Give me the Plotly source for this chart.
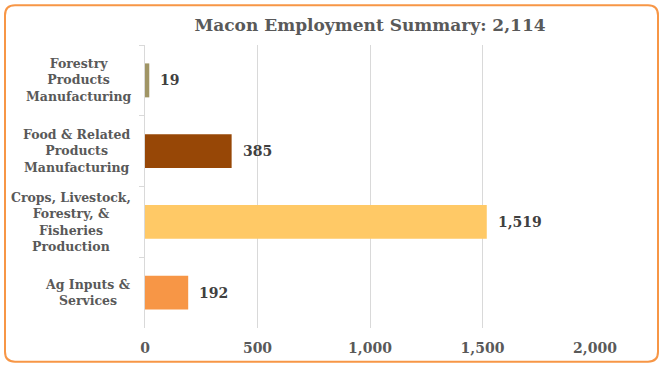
import plotly.graph_objects as go

categories = ["Forestry Products Manufacturing", "Food & Related Products Manufacturing",
              "Crops, Livestock, Forestry, & Fisheries Production", "Ag Inputs & Services"]
category_labels = ["Forestry<br>Products<br>Manufacturing", "Food & Related<br>Products<br>Manufacturing",
                   "Crops, Livestock,<br>Forestry, &<br>Fisheries<br>Production", "Ag Inputs &<br>Services"]
values = [19, 385, 1519, 192]
value_text = ["19", "385", "1,519", "192"]
colors = ["#A09565", "#974706", "#FFC966", "#F79646"]
title_text = "Macon Employment Summary: 2,114"

W, H = 663, 368
L, R, T, B = 145, 68, 45, 38
pw, ph = W - L - R, H - T - B

def px(x):
    return (x - L) / pw

def py(y):
    return (H - B - y) / ph

FONT = "DejaVu Serif"
GRAY = "#595959"

fig = go.Figure()
fig.add_trace(go.Bar(
    y=categories, x=values, orientation="h",
    marker=dict(color=colors, line=dict(width=0)),
    width=0.48,
    hoverinfo="skip",
))

annotations = []
for c, lab in zip(categories, category_labels):
    annotations.append(dict(
        x=px(133), xref="paper", y=c, yref="y", text=lab, showarrow=False,
        xanchor="right", align="center",
        font=dict(family=FONT, size=12.5, color=GRAY, weight="bold"),
    ))
for c, v, t in zip(categories, values, value_text):
    annotations.append(dict(
        x=v, xref="x", y=c, yref="y", text=t, showarrow=False,
        xanchor="left", xshift=9,
        font=dict(family=FONT, size=14, color="#404040", weight="bold"),
    ))

# rounded border
x0, x1, y0, y1, r = 5, 658, 5, 364, 10
path = (f"M {px(x0+r)},{py(y0)} L {px(x1-r)},{py(y0)} Q {px(x1)},{py(y0)} {px(x1)},{py(y0+r)} "
        f"L {px(x1)},{py(y1-r)} Q {px(x1)},{py(y1)} {px(x1-r)},{py(y1)} "
        f"L {px(x0+r)},{py(y1)} Q {px(x0)},{py(y1)} {px(x0)},{py(y1-r)} "
        f"L {px(x0)},{py(y0+r)} Q {px(x0)},{py(y0)} {px(x0+r)},{py(y0)} Z")

fig.update_layout(
    width=W, height=H,
    margin=dict(l=L, r=R, t=T, b=B),
    paper_bgcolor="white", plot_bgcolor="white",
    showlegend=False,
    title=dict(text=title_text, x=0.5, xref="paper", y=1 - 25 / H, yanchor="middle",
               font=dict(family=FONT, size=17, color=GRAY, weight="bold")),
    xaxis=dict(range=[0, 2000], dtick=500, tickformat=",", showgrid=True, gridcolor="#D9D9D9",
               gridwidth=1, zeroline=False, showline=False, ticks="",
               ticklabelstandoff=10,
               tickfont=dict(family=FONT, size=14, color=GRAY, weight="bold"), fixedrange=True),
    yaxis=dict(autorange="reversed", showticklabels=False, showline=True, linecolor="#D9D9D9",
               linewidth=1, ticks="outside", tickson="boundaries", ticklen=5, tickcolor="#D9D9D9",
               showgrid=False, zeroline=False, fixedrange=True),
    annotations=annotations,
    shapes=[dict(type="path", path=path, xref="paper", yref="paper",
                 line=dict(color="#F79646", width=2), fillcolor="rgba(0,0,0,0)", layer="above")],
)

fig.write_html("out.html", config={"displayModeBar": False},
               post_script="document.body.style.margin='0';document.body.style.overflow='hidden';")
